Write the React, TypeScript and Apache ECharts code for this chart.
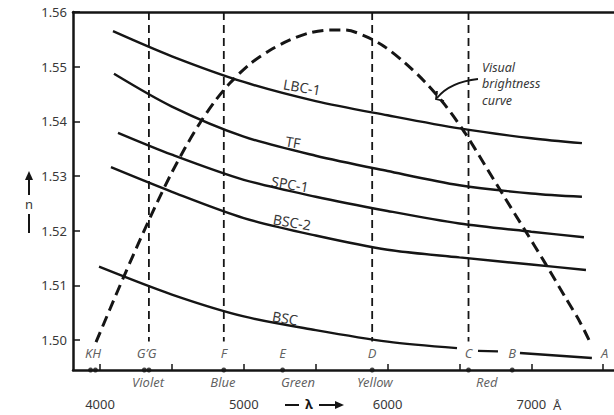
import React, { useEffect, useRef } from "react";
import * as echarts from "echarts";

// Axis ranges and ticks
const xMin = 3812;
const xMax = 7575;
const yMin = 1.4945;
const yMax = 1.56;
const xTicks = [4000, 4500, 5000, 5500, 6000, 6500, 7000, 7500];
const xTickLabels = [4000, 5000, 6000, 7000];
const yTicks = [1.5, 1.51, 1.52, 1.53, 1.54, 1.55, 1.56];

// Refractive index curves [wavelength (Å), n]
const lbc1 = [[4090, 1.5565], [4500, 1.5519], [5000, 1.5472], [5500, 1.5437], [6000, 1.5411], [6500, 1.5387], [7000, 1.5369], [7352, 1.536]];
const tf = [[4097, 1.5487], [4500, 1.5427], [5000, 1.5372], [5500, 1.5337], [6000, 1.5309], [6500, 1.5283], [7000, 1.5268], [7352, 1.5262]];
const spc1 = [[4125, 1.5379], [4500, 1.5339], [5000, 1.5293], [5500, 1.5262], [6000, 1.5236], [6500, 1.5213], [7000, 1.5198], [7366, 1.5188]];
const bsc2 = [[4076, 1.5316], [4500, 1.5271], [5000, 1.5223], [5500, 1.5191], [6000, 1.5165], [6500, 1.5151], [7000, 1.5138], [7380, 1.5128]];
const bscMain = [[3993, 1.5134], [4500, 1.5083], [5000, 1.5043], [5500, 1.5018], [6000, 1.4997], [6483, 1.4985]];
const bscCB = [[6629, 1.498], [6768, 1.4979]];
const bscBA = [[6921, 1.4976], [7421, 1.4967]];

// Visual brightness curve (dashed)
const brightness = [
  [3972, 1.4996], [4070, 1.5057], [4174, 1.5121], [4278, 1.5183], [4382, 1.5243], [4487, 1.53],
  [4591, 1.5351], [4695, 1.5397], [4800, 1.5437], [4904, 1.547], [5043, 1.5505], [5182, 1.553],
  [5321, 1.5549], [5460, 1.5562], [5599, 1.5567], [5704, 1.5567], [5843, 1.5556], [5982, 1.5536],
  [6121, 1.5507], [6260, 1.5472], [6399, 1.543], [6538, 1.5379], [6677, 1.532], [6816, 1.526],
  [6955, 1.5201], [7095, 1.5141], [7234, 1.5079], [7338, 1.5033], [7408, 1.4996],
];

// Fraunhofer lines
const verticalLines = [4340, 4861, 5893, 6563];
const verticalLineBottom = 1.4997;
const lineDots = [3934, 3968, 4308, 4340, 4861, 5270, 5893, 6563, 6867];
const letterNames = ["KH", "G\u2019G", "F", "E", "D", "C", "B", "A"];
const letterWavelengths = [3951, 4324, 4861, 5270, 5893, 6563, 6867, 7510];
const letterLevel = 1.4976;
const colourNames = ["Violet", "Blue", "Green", "Yellow", "Red"];
const colourWavelengths = [4334, 4855, 5377, 5912, 6690];

const FONT = "'Noto Sans', 'Open Sans', sans-serif";
const INK = "#151515";
const TEXT = "#383838";

export default function App() {
  const ref = useRef<HTMLDivElement>(null);

  useEffect(() => {
    if (!ref.current) return;
    const chart = echarts.init(ref.current, null, { renderer: "svg" });

    const curveSeries = (data: number[][]) => ({
      type: "line",
      data,
      symbol: "none",
      smooth: 0.3,
      silent: true,
      lineStyle: { color: INK, width: 2.4 },
      z: 3,
    });

    const axisLineStyle = { color: INK, width: 2.5 };

    const curveLabel = (text: string, x: number, y: number, rot: number) => ({
      type: "text",
      x,
      y,
      rotation: rot,
      silent: true,
      style: { text, font: `14px ${FONT}`, fill: TEXT, align: "center", verticalAlign: "middle" },
    });

    const noteLine = (text: string, y: number) => ({
      type: "text",
      x: 482,
      y,
      silent: true,
      style: { text, font: `italic 12.5px ${FONT}`, fill: TEXT, align: "left", verticalAlign: "middle" },
    });

    const option: any = {
      animation: false,
      grid: { left: 73, right: 0, top: 12, bottom: 45 },
      xAxis: [
        {
          type: "value",
          min: xMin,
          max: xMax,
          position: "bottom",
          axisLine: { show: true, onZero: false, lineStyle: axisLineStyle },
          axisTick: { show: true, inside: true, length: 6, customValues: xTicks, lineStyle: { color: INK, width: 1.5 } },
          axisLabel: { customValues: xTickLabels, margin: 27, fontSize: 13, color: TEXT, fontFamily: FONT, formatter: (v: number) => String(v) },
          splitLine: { show: false },
        },
        {
          type: "value",
          min: xMin,
          max: xMax,
          position: "top",
          axisLine: { show: true, onZero: false, lineStyle: axisLineStyle },
          axisTick: { show: false },
          axisLabel: { show: false },
          splitLine: { show: false },
        },
      ],
      yAxis: {
        type: "value",
        min: yMin,
        max: yMax,
        axisLine: { show: true, onZero: false, lineStyle: axisLineStyle },
        axisTick: { show: true, inside: true, length: 7, customValues: yTicks, lineStyle: { color: INK, width: 1.5 } },
        axisLabel: { customValues: yTicks, margin: 6, fontSize: 13, color: TEXT, fontFamily: FONT, formatter: (v: number) => v.toFixed(2) },
        splitLine: { show: false },
      },
      series: [
        ...verticalLines.map((l) => ({
          type: "line",
          data: [[l, yMax], [l, verticalLineBottom]],
          symbol: "none",
          silent: true,
          lineStyle: { color: INK, width: 1.8, type: [8, 5] },
          z: 2,
        })),
        curveSeries(lbc1),
        curveSeries(tf),
        curveSeries(spc1),
        curveSeries(bsc2),
        curveSeries(bscMain),
        curveSeries(bscCB),
        curveSeries(bscBA),
        {
          type: "line",
          data: brightness,
          symbol: "none",
          smooth: 0.3,
          silent: true,
          lineStyle: { color: INK, width: 3, type: [11, 6] },
          z: 4,
        },
        {
          type: "scatter",
          data: lineDots.map((l) => [l, yMin]),
          symbolSize: 5,
          itemStyle: { color: INK },
          silent: true,
          clip: false,
          z: 6,
        },
        {
          type: "scatter",
          data: letterNames.map((n, i) => ({ name: n, value: [letterWavelengths[i], letterLevel] })),
          symbolSize: 0,
          silent: true,
          label: { show: true, position: "inside", formatter: "{b}", fontSize: 13, fontStyle: "italic", color: TEXT, fontFamily: FONT },
          z: 6,
        },
        {
          type: "scatter",
          data: colourNames.map((n, i) => ({ name: n, value: [colourWavelengths[i], yMin] })),
          symbolSize: 0,
          silent: true,
          clip: false,
          label: { show: true, position: "inside", offset: [0, 12], formatter: "{b}", fontSize: 13, fontStyle: "italic", color: TEXT, fontFamily: FONT },
          z: 6,
        },
      ],
      graphic: [
        curveLabel("LBC-1", 302, 87, -0.17),
        curveLabel("TF", 293, 142, -0.17),
        curveLabel("SPC-1", 290, 184, -0.17),
        curveLabel("BSC-2", 292, 222, -0.17),
        curveLabel("BSC", 285, 318, -0.17),
        noteLine("Visual", 67),
        noteLine("brightness", 83.5),
        noteLine("curve", 100),
        {
          type: "bezierCurve",
          silent: true,
          shape: { x1: 478, y1: 79, cpx1: 460, cpy1: 81, cpx2: 445, cpy2: 88, x2: 437, y2: 98 },
          style: { stroke: INK, lineWidth: 1.8, fill: "none" },
        },
        {
          type: "polyline",
          silent: true,
          shape: { points: [[437, 91], [436, 99], [444, 101]] },
          style: { stroke: INK, lineWidth: 1.8, fill: "none" },
        },
        {
          type: "text",
          x: 553,
          y: 405,
          silent: true,
          style: { text: "\u00C5", font: `13px ${FONT}`, fill: TEXT, align: "left", verticalAlign: "middle" },
        },
        // — λ →
        {
          type: "line",
          silent: true,
          shape: { x1: 285, y1: 405, x2: 299, y2: 405 },
          style: { stroke: INK, lineWidth: 2 },
        },
        {
          type: "text",
          x: 309,
          y: 404,
          silent: true,
          style: { text: "\u03BB", font: `bold 13px ${FONT}`, fill: INK, align: "center", verticalAlign: "middle" },
        },
        {
          type: "line",
          silent: true,
          shape: { x1: 319, y1: 405, x2: 337, y2: 405 },
          style: { stroke: INK, lineWidth: 2 },
        },
        {
          type: "polygon",
          silent: true,
          shape: { points: [[335, 401], [344, 405], [335, 409]] },
          style: { fill: INK },
        },
        // ↑ n |
        {
          type: "line",
          silent: true,
          shape: { x1: 29, y1: 195, x2: 29, y2: 178 },
          style: { stroke: INK, lineWidth: 2 },
        },
        {
          type: "polygon",
          silent: true,
          shape: { points: [[25, 180], [29, 171], [33, 180]] },
          style: { fill: INK },
        },
        {
          type: "text",
          x: 29,
          y: 204,
          silent: true,
          style: { text: "n", font: `13px ${FONT}`, fill: TEXT, align: "center", verticalAlign: "middle" },
        },
        {
          type: "line",
          silent: true,
          shape: { x1: 29, y1: 214, x2: 29, y2: 233 },
          style: { stroke: INK, lineWidth: 2 },
        },
      ],
    };

    chart.setOption(option);
    return () => chart.dispose();
  }, []);

  return (
    <div
      ref={ref}
      style={{ position: "absolute", left: 0, top: 0, width: 614, height: 415, background: "#fff" }}
    />
  );
}
